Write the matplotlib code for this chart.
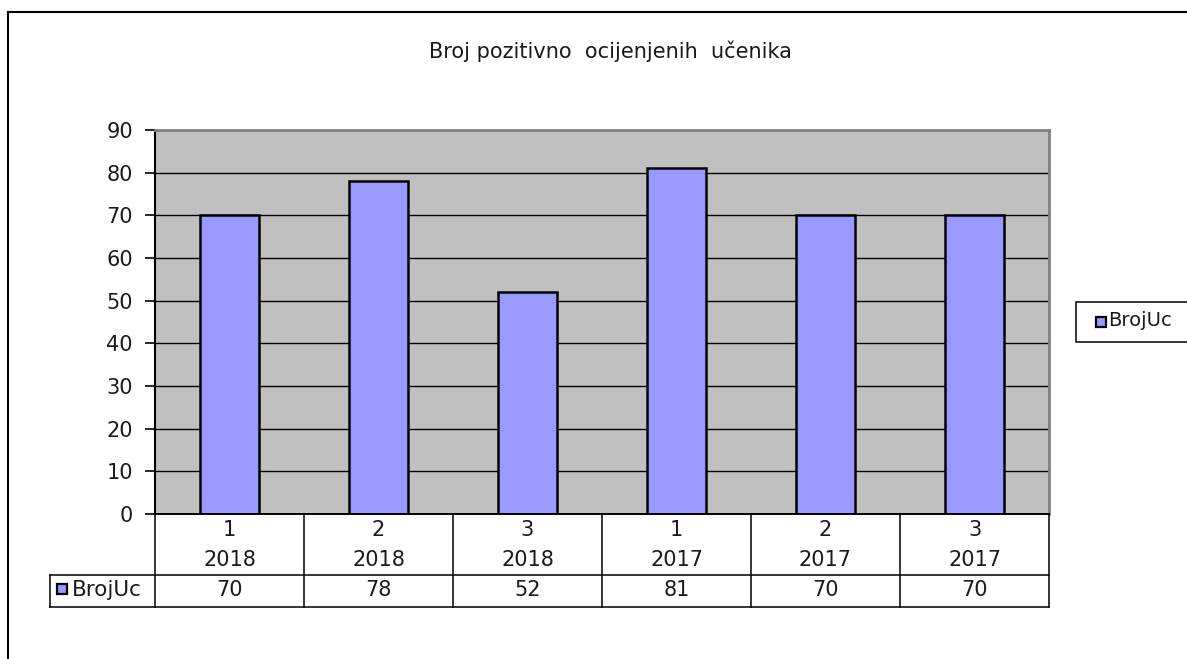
import matplotlib
matplotlib.use("Agg")
import matplotlib.pyplot as plt
from matplotlib.patches import Rectangle
from matplotlib.lines import Line2D
import matplotlib.transforms as mtransforms

plt.rcParams['font.family'] = ['DejaVu Sans']

title = "Broj pozitivno  ocijenjenih  učenika"
series_name = "BrojUc"
quarters = ["1", "2", "3", "1", "2", "3"]
years = ["2018", "2018", "2018", "2017", "2017", "2017"]
values = [70, 78, 52, 81, 70, 70]
yticks = [0, 10, 20, 30, 40, 50, 60, 70, 80, 90]

W, H = 1187, 659
fig = plt.figure(figsize=(W / 100, H / 100), dpi=100)
fig.patch.set_facecolor("white")

def fx(px):
    return px / W

def fy(py):
    return 1 - py / H

FS = 15
TXT = "#1a1a1a"

# outer chart border
fig.patches.append(Rectangle((fx(8), fy(700)), fx(1250) - fx(8), fy(12) - fy(700),
                             transform=fig.transFigure, fill=False, edgecolor="black",
                             linewidth=1.5, zorder=0))

# plot area
L, R, T, B = 155, 1049, 130, 514
ax = fig.add_axes([fx(L), fy(B), fx(R) - fx(L), fy(T) - fy(B)])
ax.set_facecolor("#C0C0C0")
n = len(values)
ax.set_xlim(-0.5, n - 0.5)
ax.set_ylim(0, 90)
ax.set_yticks(yticks)
ax.set_yticklabels([str(v) for v in yticks], fontsize=FS, color=TXT)
ax.set_xticks([])
ax.tick_params(axis="y", direction="out", length=7, width=1.2, pad=9, colors="black")
for lbl in ax.get_yticklabels():
    lbl.set_color(TXT)
for y in yticks[1:]:
    ax.axhline(y, color="black", linewidth=1.0, zorder=1)
for s in ["top", "right"]:
    ax.spines[s].set_color("#808080")
    ax.spines[s].set_linewidth(2)
ax.spines["left"].set_linewidth(1.5)
ax.spines["bottom"].set_linewidth(1.2)

ax.bar(range(n), values, width=0.39, color="#9999FF", edgecolor="black",
       linewidth=1.8, zorder=3)

# data table below, x in data coords, y in pixels
trans = mtransforms.blended_transform_factory(ax.transData, fig.transFigure)
row1_bot, table_bot = 575, 607
lw = 1.1
def hline(x0, x1, ypx):
    fig.add_artist(Line2D([x0, x1], [fy(ypx), fy(ypx)], transform=trans, color="black", linewidth=lw))
def vline(x, y0, y1):
    fig.add_artist(Line2D([x, x], [fy(y0), fy(y1)], transform=trans, color="black", linewidth=lw))

leftcell = -0.5 - (L - 50) / ((R - L) / n)
hline(-0.5, n - 0.5, B)
hline(leftcell, n - 0.5, row1_bot)
hline(leftcell, n - 0.5, table_bot)
for i in range(n + 1):
    vline(i - 0.5, B, table_bot)
vline(leftcell, row1_bot, table_bot)

for i in range(n):
    fig.text(i, fy(530), quarters[i], transform=trans, ha="center", va="center", fontsize=FS, color=TXT)
    fig.text(i, fy(560), years[i], transform=trans, ha="center", va="center", fontsize=FS, color=TXT)
    fig.text(i, fy(590), str(values[i]), transform=trans, ha="center", va="center", fontsize=FS, color=TXT)

# series key in table
fig.patches.append(Rectangle((fx(57), fy(594)), fx(10), fy(584) - fy(594), transform=fig.transFigure,
                             facecolor="#9999FF", edgecolor="black", linewidth=1.6))
fig.text(fx(71.5), fy(590), series_name, ha="left", va="center", fontsize=15.5, color=TXT)

# legend on the right
fig.patches.append(Rectangle((fx(1076), fy(342)), fx(1200) - fx(1076), fy(302) - fy(342),
                             transform=fig.transFigure, facecolor="white", edgecolor="black",
                             linewidth=1.1))
fig.patches.append(Rectangle((fx(1096), fy(327)), fx(10), fy(317) - fy(327), transform=fig.transFigure,
                             facecolor="#9999FF", edgecolor="black", linewidth=1.6))
fig.text(fx(1108), fy(321), series_name, ha="left", va="center", fontsize=14, color=TXT)

fig.text(fx(610), fy(51), title, ha="center", va="center", fontsize=15, color=TXT)

fig.savefig("out.png", dpi=100)
